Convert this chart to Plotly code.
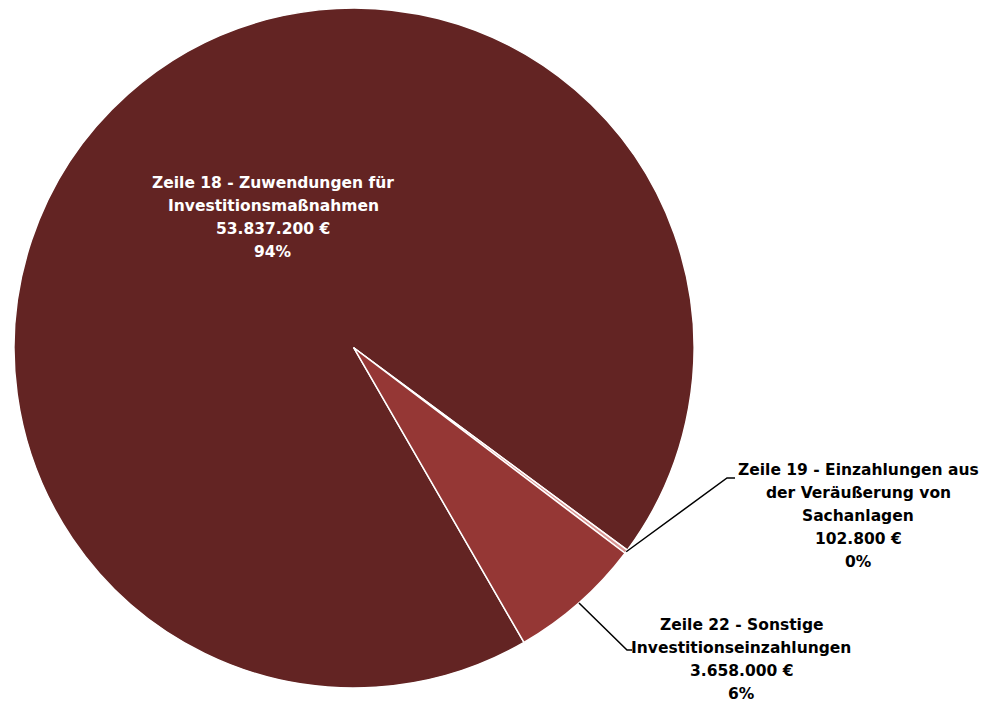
import math
import plotly.graph_objects as go

# ---- data ----
categories = [
    ["Zeile 18 - Zuwendungen für", "Investitionsmaßnahmen"],
    ["Zeile 19 - Einzahlungen aus", "der Veräußerung von", "Sachanlagen"],
    ["Zeile 22 - Sonstige", "Investitionseinzahlungen"],
]
values = [53837200, 102800, 3658000]
pct_labels = ["94%", "0%", "6%"]
colors = ["#632423", "#D99694", "#953735"]

W, H = 992, 704
OFF = 8  # page body margin offset
cx, cy, R = 354 - OFF, 348 - OFF, 340
rotation = 150

def fmt_eur(v):
    return f"{v:,.0f}".replace(",", ".") + " €"

label_lines = [c + [fmt_eur(v), p] for c, v, p in zip(categories, values, pct_labels)]

fig = go.Figure(go.Pie(
    labels=[" ".join(c) for c in categories],
    values=values,
    sort=False,
    direction="clockwise",
    rotation=rotation,
    marker=dict(colors=colors, line=dict(color="white", width=1.5)),
    textinfo="none",
    hoverinfo="label+value+percent",
    domain=dict(x=[(cx - R) / W, (cx + R) / W], y=[(H - cy - R) / H, (H - cy + R) / H]),
    showlegend=False,
))

total = sum(values)
mids = []
acc = 0
for v in values:
    mids.append(rotation + (acc + v / 2) / total * 360)
    acc += v

def edge_point(angle_deg, r=R):
    a = math.radians(angle_deg)
    return cx + r * math.sin(a), cy - r * math.cos(a)

def to_paper(px, py):
    return px / W, (H - py) / H

font_family = "DejaVu Sans, sans-serif"
font_size = 15.5
line_gap = 23

# first-line centre positions (reference pixels)
label_pos = [(273, 183), (858, 470), (741, 625)]
label_colors = ["white", "black", "black"]
elbows = {1: [(727, 478), (735, 478)], 2: [(627, 650), (632, 650)]}

annotations = []
for i, (px, py) in enumerate(label_pos):
    for k, line in enumerate(label_lines[i]):
        xp, yp = to_paper(px - OFF, py - OFF + k * line_gap)
        annotations.append(dict(
            x=xp, y=yp, xref="paper", yref="paper", text=f"<b>{line}</b>",
            showarrow=False, xanchor="center", yanchor="middle",
            font=dict(family=font_family, size=font_size, color=label_colors[i]),
        ))

shapes = []
for i, pts in elbows.items():
    sx, sy = edge_point(mids[i])
    path_pts = [(sx, sy)] + [(px - OFF, py - OFF) for px, py in pts]
    path = ""
    for j, (px, py) in enumerate(path_pts):
        xp, yp = to_paper(px, py)
        path += ("M" if j == 0 else " L") + f" {xp} {yp}"
    shapes.append(dict(type="path", path=path, xref="paper", yref="paper",
                       line=dict(color="black", width=1.5)))

fig.update_layout(
    width=W, height=H,
    margin=dict(l=0, r=0, t=0, b=0),
    paper_bgcolor="white", plot_bgcolor="white",
    annotations=annotations, shapes=shapes,
)

fig.write_html("out.html")
